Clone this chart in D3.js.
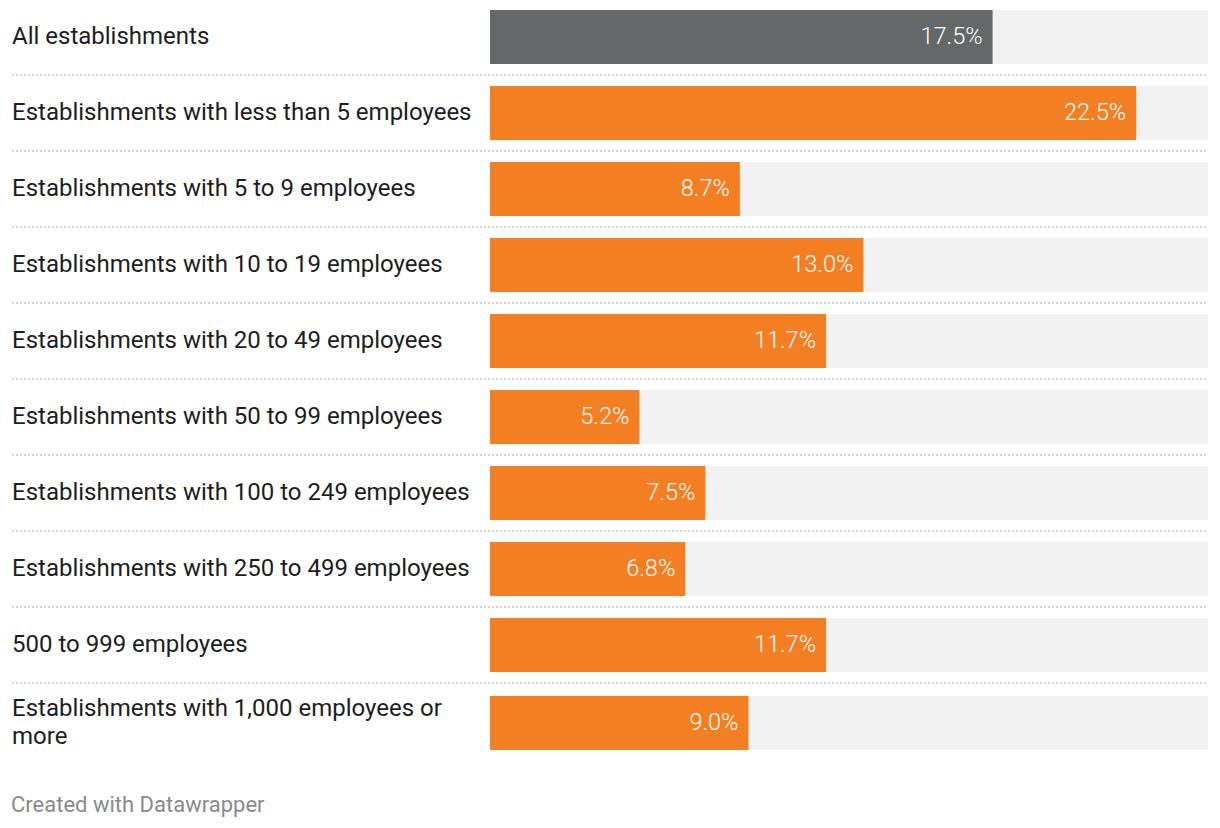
<!DOCTYPE html>
<html><head><meta charset="utf-8">
<script src="https://cdn.jsdelivr.net/npm/d3@7"></script>
<style>
html,body{margin:0;padding:0;background:#fff;}
svg text{font-family:Roboto,"Noto Sans",sans-serif;}
</style></head>
<body>
<svg id="chart" width="1220" height="828"></svg>
<script>
const categories = [
  "All establishments",
  "Establishments with less than 5 employees",
  "Establishments with 5 to 9 employees",
  "Establishments with 10 to 19 employees",
  "Establishments with 20 to 49 employees",
  "Establishments with 50 to 99 employees",
  "Establishments with 100 to 249 employees",
  "Establishments with 250 to 499 employees",
  "500 to 999 employees",
  "Establishments with 1,000 employees or more"
];
const values = [17.5, 22.5, 8.7, 13.0, 11.7, 5.2, 7.5, 6.8, 11.7, 9.0];
const highlight = [true, false, false, false, false, false, false, false, false, false];
const domainMax = 25;

const svg = d3.select("#chart");
const x = d3.scaleLinear().domain([0, domainMax]).range([490, 1208]);
const rowStep = 76, barH = 54, top0 = 10;
const yPos = i => top0 + i * rowStep + (i === categories.length - 1 ? 2 : 0);

const maxLabelW = 470;
const labelSize = 24;
const g = svg.append("g");

categories.forEach((c, i) => {
  const by = yPos(i);
  const last = i === categories.length - 1;
  if (i > 0) {
    const sy = by - 11 - (last ? 2 : 0);
    g.append("line").attr("x1", 12).attr("x2", 1208).attr("y1", sy).attr("y2", sy)
      .attr("stroke", "#d6d6d6").attr("stroke-width", 2).attr("stroke-dasharray", "2,2");
  }
  g.append("rect").attr("x", x(0)).attr("y", by).attr("width", x(domainMax) - x(0)).attr("height", barH).attr("fill", "#f2f2f2");
  g.append("rect").attr("x", x(0)).attr("y", by).attr("width", x(values[i]) - x(0)).attr("height", barH)
    .attr("fill", highlight[i] ? "#656868" : "#f47e22");
  g.append("text").attr("x", x(values[i]) - 10).attr("y", by + barH / 2 - 1).attr("dy", "0.36em")
    .attr("text-anchor", "end").attr("fill", "#fff").attr("font-size", 23.5).attr("font-weight", 300)
    .text(values[i].toFixed(1) + "%");

  const t = g.append("text").attr("x", 12).attr("fill", "#1d1d1d").attr("font-size", labelSize);
  const words = c.split(" ");
  let lines = [], cur = [];
  const probe = svg.append("text").attr("font-size", labelSize);
  words.forEach(w => {
    const test = cur.concat([w]).join(" ");
    probe.text(test);
    if (probe.node().getComputedTextLength() > maxLabelW && cur.length) { lines.push(cur.join(" ")); cur = [w]; }
    else cur.push(w);
  });
  lines.push(cur.join(" "));
  probe.remove();
  const lh = 28;
  const startY = by + barH / 2 - 2 - (lines.length - 1) * lh / 2;
  lines.forEach((l, k) => {
    t.append("tspan").attr("x", 12).attr("y", startY + k * lh).attr("dy", "0.36em").text(l);
  });
});

svg.append("text").attr("x", 11).attr("y", 804).attr("dy", "0.36em").attr("fill", "#8a8a8a")
  .attr("font-size", 22).text("Created with Datawrapper");
</script>
</body></html>
